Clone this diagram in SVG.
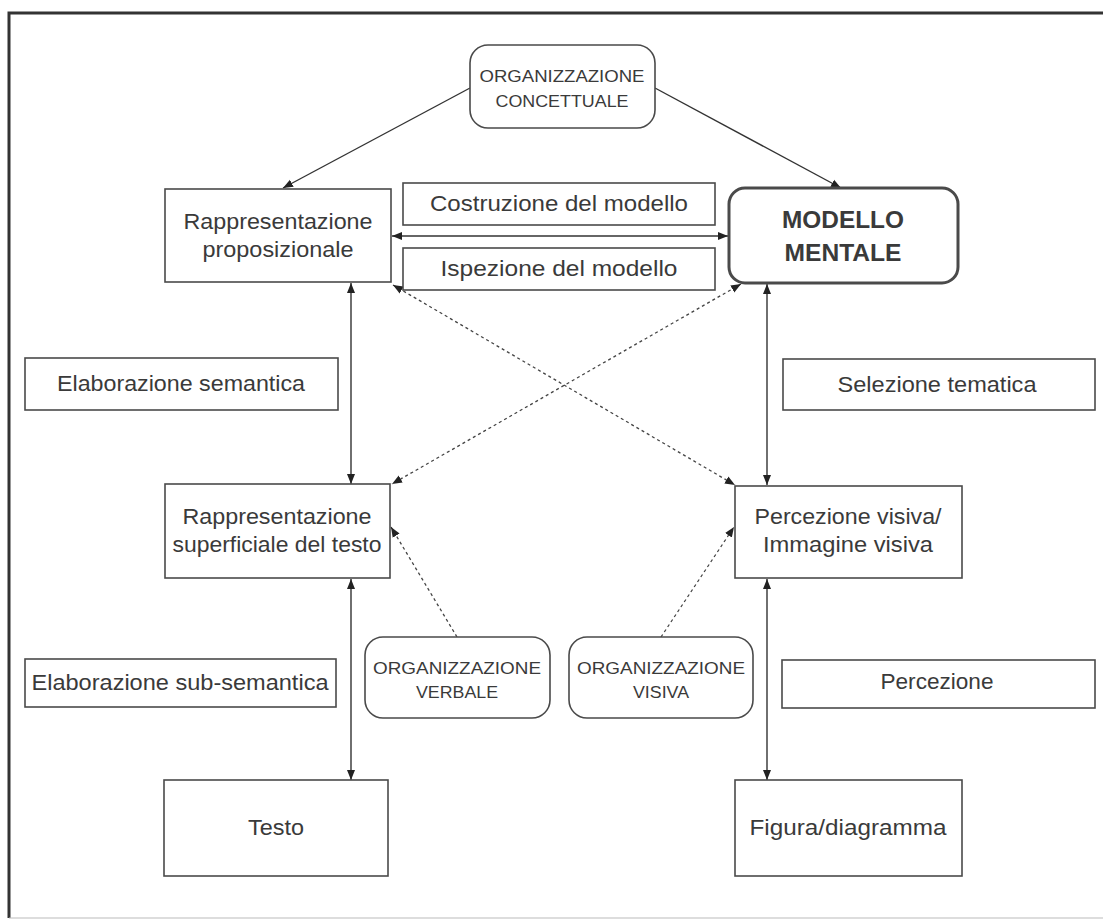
<svg xmlns="http://www.w3.org/2000/svg" width="1103" height="920" viewBox="0 0 1103 920">
<style>
.box{fill:#fff;stroke:#4a4a4a;stroke-width:1.6}
.rbox{fill:#fff;stroke:#4a4a4a;stroke-width:1.6}
.thick{fill:#fff;stroke:#4a4a4a;stroke-width:3}
.t{font-family:"Liberation Sans",Arial,sans-serif;font-size:22px;fill:#3a3a3a;text-anchor:middle}
.cap{font-family:"Liberation Sans",Arial,sans-serif;font-size:16px;fill:#3a3a3a;text-anchor:middle}
.big{font-family:"Liberation Sans",Arial,sans-serif;font-size:23px;font-weight:bold;fill:#3a3a3a;text-anchor:middle}
.ln{stroke:#333;stroke-width:1.4;fill:none}
.dot{stroke:#444;stroke-width:1.3;fill:none;stroke-dasharray:3 3}
</style>
<defs>
<marker id="ah" viewBox="0 0 10 10" refX="10" refY="5" markerWidth="10" markerHeight="10" markerUnits="userSpaceOnUse" orient="auto-start-reverse">
<path d="M0,1 L10,5 L0,9 Z" fill="#222"/>
</marker>
</defs>
<rect x="0" y="0" width="1103" height="920" fill="#fff"/>
<path d="M9,918 L9,13 L1103,13" fill="none" stroke="#333" stroke-width="3"/>
<line x1="9" y1="918" x2="1103" y2="918" stroke="#bbb" stroke-width="1"/>

<g id="connectors">
<line class="ln" x1="470" y1="88" x2="283" y2="188" marker-end="url(#ah)"/>
<line class="ln" x1="655" y1="88" x2="841" y2="188" marker-end="url(#ah)"/>
<line class="ln" x1="392" y1="236" x2="728" y2="236" marker-start="url(#ah)" marker-end="url(#ah)"/>
<line class="ln" x1="351" y1="283" x2="351" y2="484" marker-start="url(#ah)" marker-end="url(#ah)"/>
<line class="ln" x1="767" y1="284" x2="767" y2="485" marker-start="url(#ah)" marker-end="url(#ah)"/>
<line class="ln" x1="351" y1="579" x2="351" y2="780" marker-start="url(#ah)" marker-end="url(#ah)"/>
<line class="ln" x1="767" y1="579" x2="767" y2="780" marker-start="url(#ah)" marker-end="url(#ah)"/>
<line class="dot" x1="393" y1="285" x2="735" y2="485" marker-start="url(#ah)" marker-end="url(#ah)"/>
<line class="dot" x1="741" y1="284" x2="392" y2="484" marker-start="url(#ah)" marker-end="url(#ah)"/>
<line class="dot" x1="457" y1="637" x2="391" y2="527" marker-end="url(#ah)"/>
<line class="dot" x1="661" y1="637" x2="734" y2="527" marker-end="url(#ah)"/>
</g>

<g id="org-concettuale">
<rect class="rbox" x="470" y="45" width="185" height="83" rx="18"/>
<text class="cap" x="562" y="82" textLength="165" lengthAdjust="spacingAndGlyphs">ORGANIZZAZIONE</text>
<text class="cap" x="562" y="107" textLength="133" lengthAdjust="spacingAndGlyphs">CONCETTUALE</text>
</g>

<g id="rappr-proposizionale">
<rect class="box" x="165" y="189" width="226" height="93"/>
<text class="t" x="278" y="229" textLength="189" lengthAdjust="spacingAndGlyphs">Rappresentazione</text>
<text class="t" x="278" y="257" textLength="151" lengthAdjust="spacingAndGlyphs">proposizionale</text>
</g>

<g id="costruzione">
<rect class="box" x="403" y="183" width="312" height="42"/>
<text class="t" x="559" y="211" textLength="258" lengthAdjust="spacingAndGlyphs">Costruzione del modello</text>
</g>

<g id="ispezione">
<rect class="box" x="403" y="248" width="312" height="42"/>
<text class="t" x="559" y="276" textLength="237" lengthAdjust="spacingAndGlyphs">Ispezione del modello</text>
</g>

<g id="modello-mentale">
<rect class="thick" x="729" y="188" width="229" height="95" rx="16"/>
<text class="big" x="843" y="228" textLength="122" lengthAdjust="spacingAndGlyphs">MODELLO</text>
<text class="big" x="843" y="261" textLength="117" lengthAdjust="spacingAndGlyphs">MENTALE</text>
</g>

<g id="elab-semantica">
<rect class="box" x="25" y="358" width="313" height="52"/>
<text class="t" x="181" y="391" textLength="248" lengthAdjust="spacingAndGlyphs">Elaborazione semantica</text>
</g>

<g id="selezione-tematica">
<rect class="box" x="783" y="359" width="312" height="51"/>
<text class="t" x="937" y="392" textLength="199" lengthAdjust="spacingAndGlyphs">Selezione tematica</text>
</g>

<g id="rappr-superficiale">
<rect class="box" x="165" y="484" width="225" height="94"/>
<text class="t" x="277" y="524" textLength="189" lengthAdjust="spacingAndGlyphs">Rappresentazione</text>
<text class="t" x="277" y="552" textLength="209" lengthAdjust="spacingAndGlyphs">superficiale del testo</text>
</g>

<g id="percezione-visiva">
<rect class="box" x="735" y="486" width="227" height="92"/>
<text class="t" x="848" y="524" textLength="187" lengthAdjust="spacingAndGlyphs">Percezione visiva/</text>
<text class="t" x="848" y="552" textLength="170" lengthAdjust="spacingAndGlyphs">Immagine visiva</text>
</g>

<g id="elab-subsemantica">
<rect class="box" x="25" y="659" width="311" height="48"/>
<text class="t" x="180" y="690" textLength="297" lengthAdjust="spacingAndGlyphs">Elaborazione sub-semantica</text>
</g>

<g id="org-verbale">
<rect class="rbox" x="365" y="637" width="185" height="81" rx="18"/>
<text class="cap" x="457" y="674" textLength="168" lengthAdjust="spacingAndGlyphs">ORGANIZZAZIONE</text>
<text class="cap" x="457" y="698" textLength="82" lengthAdjust="spacingAndGlyphs">VERBALE</text>
</g>

<g id="org-visiva">
<rect class="rbox" x="569" y="637" width="184" height="81" rx="18"/>
<text class="cap" x="661" y="674" textLength="168" lengthAdjust="spacingAndGlyphs">ORGANIZZAZIONE</text>
<text class="cap" x="661" y="698" textLength="56" lengthAdjust="spacingAndGlyphs">VISIVA</text>
</g>

<g id="percezione">
<rect class="box" x="782" y="660" width="313" height="48"/>
<text class="t" x="937" y="689" textLength="113" lengthAdjust="spacingAndGlyphs">Percezione</text>
</g>

<g id="testo">
<rect class="box" x="164" y="780" width="224" height="96"/>
<text class="t" x="276" y="835" textLength="56" lengthAdjust="spacingAndGlyphs">Testo</text>
</g>

<g id="figura">
<rect class="box" x="735" y="780" width="227" height="96"/>
<text class="t" x="848" y="835" textLength="197" lengthAdjust="spacingAndGlyphs">Figura/diagramma</text>
</g>
</svg>
